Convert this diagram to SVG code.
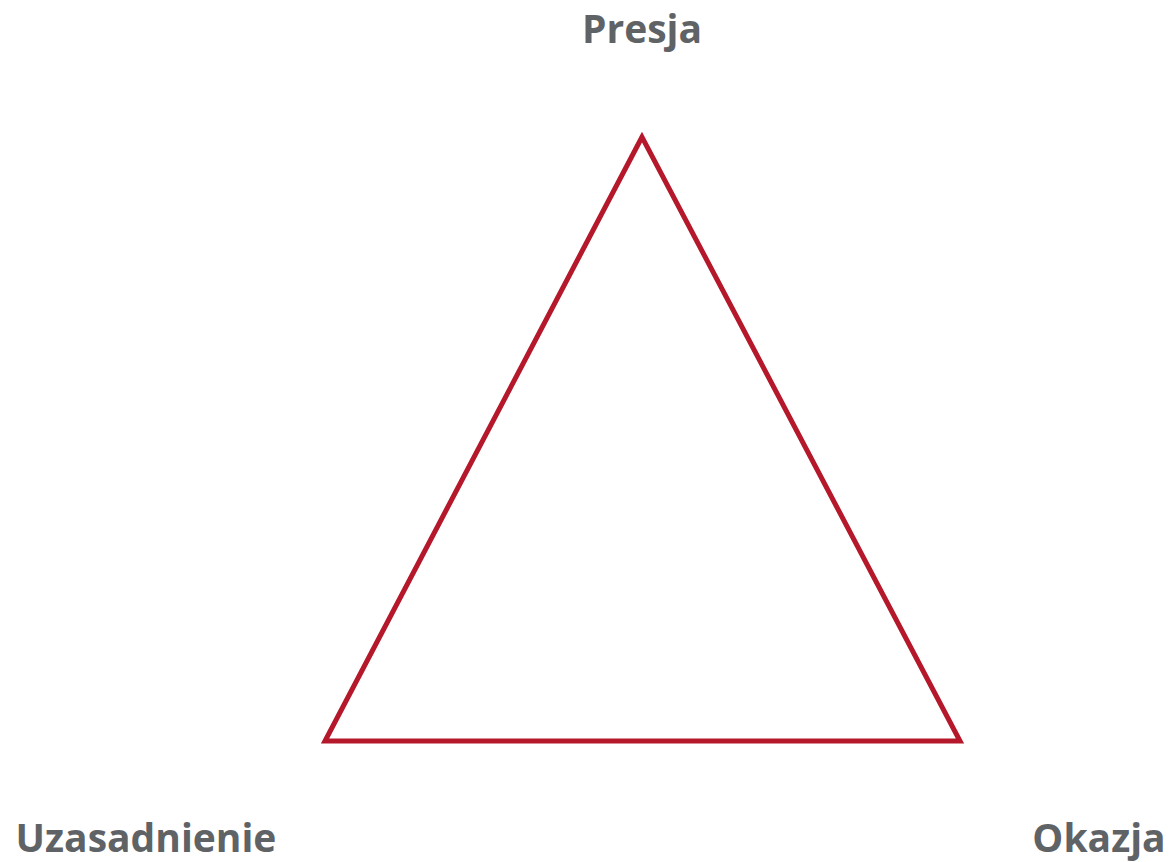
<svg xmlns="http://www.w3.org/2000/svg" width="1171" height="862" viewBox="0 0 1171 862">
<style>
.lbl{font-family:"Open Sans","Liberation Sans",sans-serif;font-weight:bold;font-size:39px;fill:#5f6366}
.tri{fill:none;stroke:#b5182a;stroke-width:5}
</style>
<rect width="1171" height="862" fill="#ffffff"/>
<g id="connectors">
<polygon class="tri" points="642,137 325,741 960,741"/>
</g>
<g id="node-presja"><text class="lbl" x="642" y="43" text-anchor="middle">Presja</text></g>
<g id="node-uzasadnienie"><text class="lbl" x="146" y="852" text-anchor="middle">Uzasadnienie</text></g>
<g id="node-okazja"><text class="lbl" x="1099" y="852" text-anchor="middle">Okazja</text></g>
</svg>
